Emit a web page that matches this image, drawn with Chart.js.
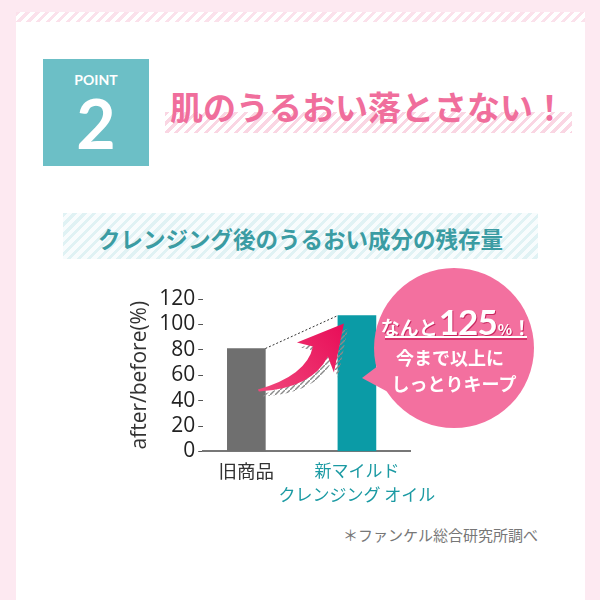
<!DOCTYPE html>
<html lang="ja">
<head>
<meta charset="utf-8">
<script src="https://cdn.jsdelivr.net/npm/chart.js@4.4.0/dist/chart.umd.min.js"></script>
<style>
  html, body { margin: 0; padding: 0; }
  body {
    width: 600px; height: 600px; position: relative; overflow: hidden;
    background: #fde9f1; font-family: "Noto Sans CJK JP", sans-serif;
  }
  .abs { position: absolute; }
  .card { left: 16px; top: 12px; width: 569px; height: 600px; background: #fff; }
  .card-top {
    left: 16px; top: 12px; width: 569px; height: 10px;
    background: repeating-linear-gradient(135deg, #fbe1eb 0 3px, #fff 3px 7px);
  }
  .point { left: 43px; top: 59px; width: 106px; height: 107px; background: #6cbfc6; color: #fff; }
  .point .lbl { position: absolute; left: 0; right: 0; top: 14px; text-align: center;
    font: 700 14px/1 Lato, sans-serif; }
  .point .num { position: absolute; left: 0; right: 0; top: 30px; text-align: center;
    font: 700 68px/1 Lato, sans-serif; }
  .title-strip {
    left: 165px; top: 112px; width: 407px; height: 21px;
    background: repeating-linear-gradient(135deg, #fad6e3 0 3px, #fff 3px 7px);
  }
  .title { left: 170px; top: 90px; font-size: 33px; line-height: 1; font-weight: 700;
    color: #f06e9c; white-space: nowrap; }
  .sub-band {
    left: 63px; top: 213px; width: 475px; height: 46px;
    background: repeating-linear-gradient(135deg, #e0f2f4 0 3px, #f8fcfd 3px 7px);
  }
  .sub { left: 63px; width: 475px; top: 227px; text-align: center; font-size: 22.5px;
    line-height: 1; font-weight: 700; color: #3b9ca3; }
  .note { right: 62px; top: 527px; font-size: 15px; line-height: 1; color: #777; }
  #wrap { left: 0; top: 0; width: 600px; height: 600px; z-index: 1; }
  .bubble { left: 374px; top: 268px; width: 160px; height: 160px; border-radius: 50%;
    background: #f3709f; z-index: 2; }
  .tail { left: 355px; top: 355px; width: 50px; height: 50px; background: #f3709f; z-index: 2;
    clip-path: polygon(7px 23px, 32px 4px, 46px 44px); }
  .b1 { left: 374px; width: 164px; top: 304px; z-index: 3; display: flex; align-items: baseline;
    justify-content: center; color: #fff; font-weight: 700; text-shadow: 1px 1px 0 #c92760; }
  .b1 .s { font-size: 19px; line-height: 1; }
  .b1 .n { font: 700 35px/1 Lato, sans-serif; letter-spacing: -1px; margin: 0 1px; }
  .b1 .p { font-size: 15px; line-height: 1; }
  .uline { left: 385px; top: 336px; width: 142px; height: 2px; background: #fff; z-index: 3;
    box-shadow: 0 2px 0 #d6336b; }
  .b2 { left: 374px; width: 160px; text-align: center; z-index: 3; color: #fff;
    font-size: 18px; line-height: 1; font-weight: 700; }
</style>
</head>
<body>
<div class="abs card"></div>
<div class="abs card-top"></div>
<div class="abs point"><div class="lbl">POINT</div><div class="num">2</div></div>
<div class="abs title-strip"></div>
<div class="abs title">肌のうるおい落とさない！</div>
<div class="abs sub-band"></div>
<div class="abs sub">クレンジング後のうるおい成分の残存量</div>
<div class="abs note">＊ファンケル総合研究所調べ</div>
<div class="abs" id="wrap"><canvas id="chart"></canvas></div>
<div class="abs tail"></div>
<div class="abs bubble"></div>
<div class="abs b1"><span class="s">なんと</span><span class="n">125</span><span class="p">%</span><span class="s">！</span></div>
<div class="abs uline"></div>
<div class="abs b2" style="top:348px; left:370px;">今まで以上に</div>
<div class="abs b2" style="top:374px;">しっとりキープ</div>

<script>
// Chart data
const categories = ['旧商品', ['新マイルド', 'クレンジング オイル']];
const values = [81, 107];
const barColors = ['#6f6f6f', '#0b9ba6'];
const labelColors = ['#333333', '#1b9aa3'];
const yTicks = [0, 20, 40, 60, 80, 100, 120];

Chart.defaults.font.family = '"Noto Sans CJK JP", sans-serif';

// Hatched pattern for the arrow shadow
function makeHatch() {
  const c = document.createElement('canvas');
  c.width = 5; c.height = 5;
  const g = c.getContext('2d');
  g.strokeStyle = '#8a8a8a';
  g.lineWidth = 1.4;
  g.beginPath();
  g.moveTo(0, 5); g.lineTo(5, 0);
  g.stroke();
  return g.createPattern(c, 'repeat');
}

// Arrow shape, offsets from the arrow tip
const arrowShape = {
  tail: [-86, 66], upCtrl: [-37, 52], upJoin: [-31, 23], leftBarb: [-47, 19],
  rightBarb: [-10, 49], lowJoin: [-16, 33], lowCtrl: [-32, 65], lowEnd: [-85, 68]
};

function arrowPath(ctx, tx, ty) {
  const p = k => [tx + arrowShape[k][0], ty + arrowShape[k][1]];
  ctx.beginPath();
  ctx.moveTo(...p('tail'));
  ctx.quadraticCurveTo(...p('upCtrl'), ...p('upJoin'));
  ctx.lineTo(...p('leftBarb'));
  ctx.lineTo(tx, ty);
  ctx.lineTo(...p('rightBarb'));
  ctx.lineTo(...p('lowJoin'));
  ctx.quadraticCurveTo(...p('lowCtrl'), ...p('lowEnd'));
  ctx.closePath();
}

const decorPlugin = {
  id: 'decor',
  afterDatasetsDraw(chart) {
    const ctx = chart.ctx;
    const bars = chart.getDatasetMeta(0).data;
    if (bars.length < 2) return;
    const a = bars[0], b = bars[1];

    // dotted guide between bar tops
    ctx.save();
    ctx.setLineDash([2, 2]);
    ctx.strokeStyle = '#333';
    ctx.lineWidth = 1;
    ctx.beginPath();
    ctx.moveTo(a.x + a.width / 2, a.y);
    ctx.lineTo(b.x - b.width / 2, b.y);
    ctx.stroke();
    ctx.restore();

    // curved arrow with hatched shadow
    const tx = b.x - b.width / 2 + 6;
    const ty = b.y + 8;
    ctx.save();
    ctx.fillStyle = makeHatch();
    arrowPath(ctx, tx + 4, ty + 5);
    ctx.fill();
    ctx.restore();

    ctx.save();
    const grad = ctx.createLinearGradient(tx - 86, ty + 66, tx, ty);
    grad.addColorStop(0, '#f0477b');
    grad.addColorStop(1, '#e80d58');
    ctx.fillStyle = grad;
    arrowPath(ctx, tx, ty);
    ctx.fill();
    ctx.restore();
  }
};

new Chart(document.getElementById('chart'), {
  type: 'bar',
  data: {
    datasets: [{
      data: values.map((v, i) => ({ x: i, y: v })),
      backgroundColor: barColors,
      barThickness: 38
    }]
  },
  options: {
    responsive: true,
    maintainAspectRatio: false,
    animation: false,
    layout: {
      padding: { left: 123, right: 190, top: 299, bottom: 87 }
    },
    scales: {
      x: {
        type: 'linear',
        bounds: 'data',
        min: -0.39,
        max: 1.48,
        offset: false,
        afterBuildTicks: scale => {
          scale.ticks = categories.map((c, i) => ({ value: i }));
        },
        grid: { display: false, drawTicks: false, offset: false },
        border: { display: true, color: '#777', width: 2 },
        ticks: {
          padding: 7,
          maxRotation: 0,
          autoSkip: false,
          font: ctx => ({ size: ctx.index === 0 ? 18.5 : 17, lineHeight: 1.4 }),
          color: ctx => labelColors[ctx.index] || '#333',
          callback: value => categories[value] || ''
        }
      },
      y: {
        min: yTicks[0],
        max: yTicks[yTicks.length - 1],
        afterBuildTicks: scale => {
          scale.ticks = yTicks.map(v => ({ value: v }));
        },
        ticks: {
          autoSkip: false,
          padding: 3,
          color: '#222',
          font: { family: '"Open Sans", sans-serif', size: 21 }
        },
        grid: { drawOnChartArea: false, drawTicks: true, tickLength: 5, color: '#555' },
        border: { display: false },
        title: {
          display: true,
          text: 'after/before(%)',
          color: '#333',
          font: { family: '"Open Sans", sans-serif', size: 21 },
          padding: 4
        }
      }
    },
    plugins: {
      legend: { display: false },
      tooltip: { enabled: false }
    }
  },
  plugins: [decorPlugin]
});
</script>
</body>
</html>
